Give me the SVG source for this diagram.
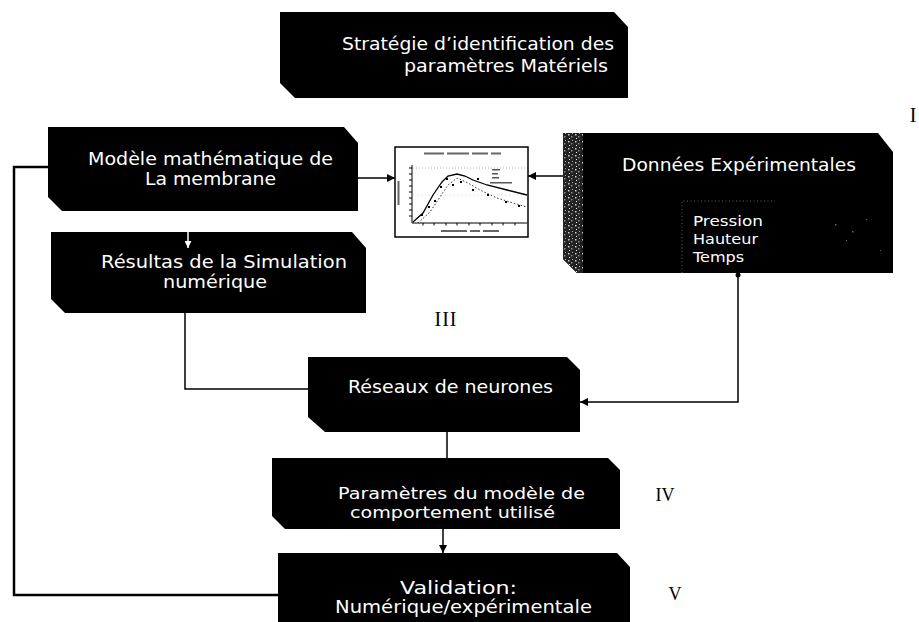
<svg xmlns="http://www.w3.org/2000/svg" width="919" height="622" viewBox="0 0 919 622">
<defs>
<style>
.box{fill:#000;}
.lbl{font-family:"DejaVu Sans",Verdana,sans-serif;font-size:17px;fill:#fff;}
.sm{font-size:15px;}
.xs{font-size:14px;}
.rom{font-family:"Liberation Serif","Times New Roman",serif;fill:#000;text-anchor:middle;}
.conn{stroke:#000;fill:none;stroke-width:1.5;}
.thick{stroke-width:2.5;}
</style>
<marker id="ah" viewBox="0 0 10 10" refX="10" refY="5" markerUnits="userSpaceOnUse" markerWidth="9" markerHeight="8" orient="auto">
<path d="M0,0 L10,5 L0,10 Z" fill="#000"/>
</marker>
<marker id="ahw" viewBox="0 0 10 10" refX="10" refY="5" markerUnits="userSpaceOnUse" markerWidth="8" markerHeight="7" orient="auto">
<path d="M0,0 L10,5 L0,10 Z" fill="#fff"/>
</marker>
<pattern id="speck" width="7" height="7" patternUnits="userSpaceOnUse">
<rect width="7" height="7" fill="#222"/>
<rect x="1" y="1" width="1.5" height="1.5" fill="#ccc"/>
<rect x="4" y="3" width="1.5" height="1.5" fill="#888"/>
<rect x="2" y="5" width="1" height="1" fill="#eee"/>
<rect x="5" y="0" width="1" height="1" fill="#aaa"/>
</pattern>
</defs>
<rect width="919" height="622" fill="#fff"/>

<g id="connectors">
<line class="conn" x1="358" y1="178" x2="395" y2="178" marker-end="url(#ah)"/>
<line class="conn" x1="563" y1="176" x2="528" y2="176" marker-end="url(#ah)"/>
<polyline class="conn" points="185,313 185,389 308,389"/>
<polyline class="conn" points="738,273 738,402 580,402" marker-end="url(#ah)"/>
<circle cx="738" cy="275" r="2.5" fill="#000"/>
<line class="conn" x1="447" y1="432" x2="447" y2="458"/>
<line class="conn" x1="443" y1="529" x2="443" y2="553" marker-end="url(#ah)"/>
<polyline class="conn thick" points="278,595 14,595 14,167 48,167"/>
</g>

<g id="title">
<path class="box" d="M280,12 H614 L628,27 V98 H295 L280,83 Z"/>
<text class="lbl" x="342" y="50" textLength="272" lengthAdjust="spacingAndGlyphs">Stratégie d’identification des</text>
<text class="lbl" x="404" y="72" textLength="204" lengthAdjust="spacingAndGlyphs">paramètres Matériels</text>
</g>

<g id="modele">
<path class="box" d="M48,127 H344 L358,143 V211 H62 L48,197 Z"/>
<text class="lbl" x="88" y="165" textLength="245" lengthAdjust="spacingAndGlyphs">Modèle mathématique de</text>
<text class="lbl" x="145" y="185" textLength="131" lengthAdjust="spacingAndGlyphs">La membrane</text>
</g>

<g id="resultats">
<path class="box" d="M51,232 H352 L366,248 V313 H65 L51,299 Z"/>
<line x1="188" y1="232" x2="188" y2="248" stroke="#fff" stroke-width="1.5" marker-end="url(#ahw)"/>
<text class="lbl" x="101" y="268" textLength="246" lengthAdjust="spacingAndGlyphs">Résultas de la Simulation</text>
<text class="lbl" x="163" y="288" textLength="104" lengthAdjust="spacingAndGlyphs">numérique</text>
</g>

<g id="chart">
<rect x="395" y="147" width="133" height="90" fill="#fff" stroke="#000" stroke-width="1.5"/>
<g fill="#666">
<rect x="424" y="152.5" width="20" height="2"/><rect x="447" y="152.5" width="22" height="2"/><rect x="472" y="152.5" width="16" height="2"/><rect x="491" y="152.5" width="10" height="2"/>
<rect x="441" y="230" width="26" height="2"/><rect x="470" y="230" width="10" height="2"/><rect x="483" y="230" width="16" height="2"/>
<rect x="397.5" y="181" width="2" height="24"/>
</g>
<line x1="413" y1="168" x2="526" y2="168" stroke="#999" stroke-width="0.8" stroke-dasharray="1 2"/>
<line x1="413" y1="195" x2="526" y2="195" stroke="#bbb" stroke-width="0.6" stroke-dasharray="1 3"/>
<polyline points="412,165 412,223 527,223" fill="none" stroke="#000" stroke-width="1"/>
<path d="M409,168 h3 M409,174 h3 M409,180 h3 M409,186 h3 M409,192 h3 M409,198 h3 M409,204 h3 M409,210 h3 M409,216 h3 M423,223 v2.5 M434,223 v2.5 M446,223 v2.5 M457,223 v2.5 M469,223 v2.5 M480,223 v2.5 M492,223 v2.5 M503,223 v2.5 M515,223 v2.5" stroke="#000" stroke-width="1"/>
<path d="M413,222 L423,213 L433,195 L442,182 L448,176 L457,174 L465,176 L473,180 L487,185 L507,190 L527,195" fill="none" stroke="#000" stroke-width="1.3"/>
<path d="M418,223 L430,212 L440,197 L448,185 L457,178 L468,183 L480,190 L497,198 L513,203 L527,207" fill="none" stroke="#333" stroke-width="1" stroke-dasharray="1.5 2"/>
<g fill="#000">
<rect x="421" y="214" width="2" height="2"/><rect x="428" y="206" width="2" height="2"/><rect x="434" y="200" width="2" height="2"/><rect x="440" y="186" width="2" height="2"/><rect x="452" y="184" width="2" height="2"/><rect x="460" y="181" width="2" height="2"/><rect x="472" y="189" width="2" height="2"/><rect x="487" y="194" width="2" height="2"/><rect x="505" y="201" width="2" height="2"/><rect x="518" y="205" width="2" height="2"/><rect x="477" y="178" width="2" height="2"/><rect x="446" y="178" width="2" height="2"/>
</g>
<g fill="#555">
<rect x="492" y="169" width="8" height="1.5"/><rect x="492" y="173" width="6" height="1.5"/><rect x="492" y="177" width="7" height="1.5"/><rect x="490" y="182" width="22" height="1.5"/>
</g>
</g>

<g id="donnees">
<path class="box" d="M563,133 H878 L893,152 V273 H577 L563,259 Z"/>
<path d="M563,133 H583 V273 H577 L563,259 Z" fill="url(#speck)"/>
<polyline points="682,273 682,201 775,201" fill="none" stroke="#666" stroke-width="1" stroke-dasharray="1 2.5"/>
<g fill="#666"><rect x="835" y="224" width="1.5" height="1.5"/><rect x="852" y="231" width="1.5" height="1.5"/><rect x="846" y="240" width="1" height="1"/><rect x="866" y="219" width="1" height="1"/><rect x="880" y="250" width="1" height="1"/></g>
<text class="lbl" x="622" y="171" textLength="234" lengthAdjust="spacingAndGlyphs">Données Expérimentales</text>
<text class="lbl xs" x="693" y="226" textLength="70" lengthAdjust="spacingAndGlyphs">Pression</text>
<text class="lbl xs" x="693" y="244" textLength="65" lengthAdjust="spacingAndGlyphs">Hauteur</text>
<text class="lbl xs" x="693" y="262" textLength="51" lengthAdjust="spacingAndGlyphs">Temps</text>
</g>

<g id="reseaux">
<path class="box" d="M308,357 H567 L580,370 V432 H325 L308,417 Z"/>
<text class="lbl" x="348" y="393" textLength="205" lengthAdjust="spacingAndGlyphs">Réseaux de neurones</text>
</g>

<g id="parametres">
<path class="box" d="M272,458 H608 L620,470 V529 H285 L272,516 Z"/>
<text class="lbl sm" x="338" y="499" textLength="247" lengthAdjust="spacingAndGlyphs">Paramètres du modèle de</text>
<text class="lbl sm" x="350" y="518" textLength="205" lengthAdjust="spacingAndGlyphs">comportement utilisé</text>
</g>

<g id="validation">
<path class="box" d="M278,553 H617 L630,567 V630 H278 Z"/>
<text class="lbl" x="400" y="594" textLength="117" lengthAdjust="spacingAndGlyphs">Validation:</text>
<text class="lbl" x="335" y="613" textLength="257" lengthAdjust="spacingAndGlyphs">Numérique/expérimentale</text>
</g>

<g id="numerals">
<text class="rom" x="913" y="122" font-size="20">I</text>
<text class="rom" x="446" y="326" font-size="20" letter-spacing="1">III</text>
<text class="rom" x="665" y="501" font-size="18">IV</text>
<text class="rom" x="675" y="600" font-size="18">V</text>
</g>
</svg>
